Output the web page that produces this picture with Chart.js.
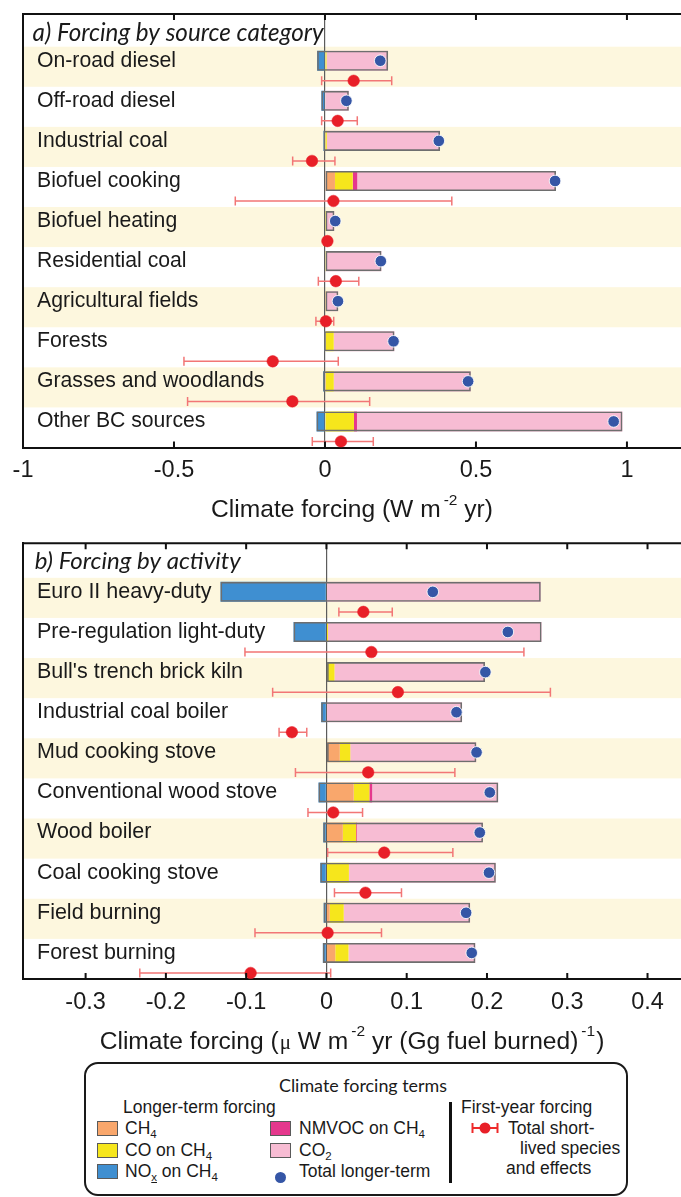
<!DOCTYPE html>
<html>
<head>
<meta charset="utf-8">
<script src="https://cdn.jsdelivr.net/npm/chart.js@4.4.1/dist/chart.umd.min.js"></script>
<style>
  html, body { margin: 0; padding: 0; background: #fff; }
  #page { position: relative; width: 681px; height: 1197px; overflow: hidden; background: #fff; }
  #page canvas { position: absolute; left: 0; }
  #cA { top: 0; }
  #cB { top: 530px; }
  .lg { position: absolute; font-family: 'Liberation Sans', Arial, sans-serif; font-size: 17.5px; color: #1a1a1a;
        line-height: 20px; height: 20px; white-space: nowrap; }
  .lg sub { font-size: 11.5px; vertical-align: -4px; line-height: 0; }
  .sw { position: absolute; width: 19px; height: 13px; border: 1px solid #5a5a5a; }
  #lgBox { position: absolute; left: 84px; top: 1062px; width: 544px; height: 134px; box-sizing: border-box;
           border: 2px solid #1a1a1a; border-radius: 14px; }
  #lgTitle { font-family: Lato, 'Open Sans', sans-serif; font-size: 17.9px; width: 220px; left: 253px; text-align: center; }
  #lgDiv { position: absolute; left: 449px; top: 1102px; width: 3px; height: 81px; background: #111; }
</style>
</head>
<body>
<div id="page">
  <canvas id="cA" width="681" height="530"></canvas>
  <canvas id="cB" width="681" height="530"></canvas>

  <div id="lgBox"></div>
  <div class="lg" id="lgTitle" style="top:1075px">Climate forcing terms</div>
  <div class="lg" style="left:123px; top:1097px">Longer-term forcing</div>
  <div id="lgItems"></div>
  <div id="lgDiv"></div>
  <div class="lg" style="left:461px; top:1097px">First-year forcing</div>
  <svg style="position:absolute; left:470px; top:1120px" width="30" height="16">
    <line x1="2" y1="8" x2="28" y2="8" stroke="#ee2a2a" stroke-width="2"/>
    <line x1="2.5" y1="3" x2="2.5" y2="13" stroke="#ee2a2a" stroke-width="2"/>
    <line x1="27.5" y1="3" x2="27.5" y2="13" stroke="#ee2a2a" stroke-width="2"/>
    <circle cx="15" cy="8" r="5.5" fill="#e81f28"/>
  </svg>
  <div class="lg" style="left:508px; top:1118px">Total short-</div>
  <div class="lg" style="left:520px; top:1138px">lived species</div>
  <div class="lg" style="left:506px; top:1158px">and effects</div>
</div>

<script>
// ---------------- Panel a: forcing by source category (W m-2 yr) ----------------
const sourceCategories = ['On-road diesel', 'Off-road diesel', 'Industrial coal', 'Biofuel cooking',
  'Biofuel heating', 'Residential coal', 'Agricultural fields', 'Forests',
  'Grasses and woodlands', 'Other BC sources'];
const sourceNOx    = [-0.026, -0.012, -0.005, 0, 0, 0, 0, -0.003, -0.006, -0.028];
const sourceCH4    = [0, 0, 0, 0.033, 0.002, 0, 0.003, 0.003, 0.003, 0];
const sourceCO     = [0.005, 0.002, 0.006, 0.059, 0.002, 0.003, 0.002, 0.026, 0.026, 0.096];
const sourceNMVOC  = [0, 0, 0, 0.015, 0, 0, 0, 0, 0, 0.010];
const sourceCO2    = [0.204, 0.077, 0.375, 0.658, 0.027, 0.184, 0.039, 0.201, 0.454, 0.879];
const sourceTotal  = [0.183, 0.071, 0.377, 0.762, 0.034, 0.185, 0.043, 0.227, 0.474, 0.956];
const sourceFirst   = [0.095, 0.042, -0.043, 0.028, 0.008, 0.036, 0.003, -0.173, -0.108, 0.053];
const sourceFirstLo = [-0.011, -0.011, -0.107, -0.297, -0.002, -0.022, -0.030, -0.467, -0.455, -0.042];
const sourceFirstHi = [0.221, 0.107, 0.033, 0.420, 0.018, 0.112, 0.029, 0.044, 0.148, 0.160];
const sourceTicks      = [-1, -0.5, 0, 0.5, 1];
const sourceTickLabels = ['-1', '-0.5', '0', '0.5', '1'];

// ---------------- Panel b: forcing by activity (uW m-2 yr per Gg fuel burned) ----------------
const activityCategories = ['Euro II heavy-duty', 'Pre-regulation light-duty', "Bull's trench brick kiln",
  'Industrial coal boiler', 'Mud cooking stove', 'Conventional wood stove', 'Wood boiler',
  'Coal cooking stove', 'Field burning', 'Forest burning'];
const activityNOx   = [-0.132, -0.041, 0, -0.0066, 0, -0.0099, -0.004, -0.0077, -0.0035, -0.0045];
const activityCH4   = [0, 0, 0, 0, 0.0166, 0.034, 0.0204, 0, 0.004, 0.011];
const activityCO    = [0, 0.002, 0.010, 0, 0.0131, 0.0195, 0.0166, 0.028, 0.0175, 0.0165];
const activityNMVOC = [0, 0, 0, 0, 0, 0.0035, 0.001, 0, 0, 0];
const activityCO2   = [0.267, 0.266, 0.1875, 0.169, 0.157, 0.157, 0.157, 0.183, 0.1575, 0.158];
const activityTotal = [0.1325, 0.226, 0.198, 0.162, 0.187, 0.2035, 0.191, 0.2025, 0.174, 0.181];
const activityFirst   = [0.046, 0.056, 0.089, -0.043, 0.052, 0.0085, 0.072, 0.0486, 0.0015, -0.0944];
const activityFirstLo = [0.0155, -0.1015, -0.067, -0.059, -0.0386, -0.023, 0.0015, 0.010, -0.089, -0.2325];
const activityFirstHi = [0.082, 0.246, 0.279, -0.0245, 0.160, 0.045, 0.1575, 0.0935, 0.0686, 0.0053];
const activityTicks      = [-0.3, -0.2, -0.1, 0, 0.1, 0.2, 0.3, 0.4];
const activityTickLabels = ['-0.3', '-0.2', '-0.1', '0', '0.1', '0.2', '0.3', '0.4'];

// ---------------- shared styling ----------------
const FONT = "'Liberation Sans', Arial, Helvetica, sans-serif";
const TERM_COLORS = { nox: '#3f8fd1', ch4: '#f9a76c', co: '#f6e61c', nmvoc: '#e5388d', co2: '#f7bcd3' };
const TERM_LEGEND = [
  { html: 'CH<sub>4</sub>', color: TERM_COLORS.ch4, col: 0, row: 0 },
  { html: 'CO on CH<sub>4</sub>', color: TERM_COLORS.co, col: 0, row: 1 },
  { html: 'NO<sub><u>x</u></sub> on CH<sub>4</sub>', color: TERM_COLORS.nox, col: 0, row: 2 },
  { html: 'NMVOC on CH<sub>4</sub>', color: TERM_COLORS.nmvoc, col: 1, row: 0 },
  { html: 'CO<sub>2</sub>', color: TERM_COLORS.co2, col: 1, row: 1 },
  { html: 'Total longer-term', dot: '#3556a6', col: 1, row: 2 }
];
const BAR_OFFSET = -0.15;   // bar sits in the upper part of each row band
const DOT_OFFSET = 0.35;    // first-year marker sits in the lower part

// Scales keep exactly the box they are given: no automatic label padding
function noPadding(s) {
  s.paddingLeft = 0; s.paddingRight = 0; s.paddingTop = 0; s.paddingBottom = 0;
}

// Row bands, top frame, inward tick marks, panel title and axis title
const panelFrame = {
  id: 'panelFrame',
  beforeDraw(chart, _args, o) {
    const { ctx, chartArea: a } = chart;
    const y = chart.scales.y;
    ctx.save();
    ctx.fillStyle = '#fdf7de';
    for (let i = 0; i < o.rows; i += 2) {
      const t = y.getPixelForValue(i - 0.5), b = y.getPixelForValue(i + 0.5);
      ctx.fillRect(a.left, t, a.right - a.left, b - t);
    }
    ctx.restore();
  },
  afterDraw(chart, _args, o) {
    const { ctx, chartArea: a } = chart;
    const x = chart.scales.x;
    ctx.save();
    ctx.strokeStyle = '#111';
    ctx.lineWidth = 2;
    ctx.beginPath();
    ctx.moveTo(a.left - 1, a.top);
    ctx.lineTo(a.right, a.top);
    ctx.stroke();
    ctx.beginPath();
    x.ticks.forEach(t => {
      const px = x.getPixelForValue(t.value);
      ctx.moveTo(px, a.top); ctx.lineTo(px, a.top + 6);
      ctx.moveTo(px, a.bottom); ctx.lineTo(px, a.bottom - 6);
    });
    ctx.stroke();

    // panel title, italic
    ctx.fillStyle = '#1a1a1a';
    ctx.textBaseline = 'middle';
    ctx.font = 'italic 20px Lato, "Open Sans", sans-serif';
    const w20 = ctx.measureText(o.title).width;
    const size = Math.max(15, Math.min(26, 20 * o.titleWidth / w20));
    ctx.font = `italic ${size.toFixed(2)}px Lato, "Open Sans", sans-serif`;
    ctx.fillText(o.title, a.left + o.titleDx, a.top + o.titleDy);

    // axis title with superscripts
    const parts = o.axisTitle;
    let total = 0;
    parts.forEach(p => { ctx.font = p.font; p.w = ctx.measureText(p.t).width; total += p.w + (p.gap || 0); });
    let cx = (a.left + a.right) / 2 - total / 2;
    const base = a.bottom + o.axisTitleDy + 8.8;
    ctx.textBaseline = 'alphabetic';
    parts.forEach(p => {
      cx += p.gap || 0;
      ctx.font = p.font;
      ctx.fillText(p.t, cx, base - (p.raise || 0));
      cx += p.w;
    });
    ctx.restore();
  }
};

function buildPanel(canvas, d) {
  const n = d.cats.length;
  const barY = i => i + BAR_OFFSET;
  const dotY = i => i + DOT_OFFSET;
  const segment = (label, vals, color) => ({
    type: 'bar', label, stack: 'longer', order: 5,
    data: vals.map((v, i) => ({ x: v, y: barY(i) })),
    backgroundColor: color, borderWidth: 0,
    grouped: false, categoryPercentage: 1, barPercentage: 0.5
  });
  const whiskers = [];
  d.lo.forEach((lo, i) => {
    whiskers.push({ x: lo, y: dotY(i) }, { x: d.hi[i], y: dotY(i) }, { x: null, y: null });
  });
  const datasets = [
    segment('NOx on CH4', d.nox, TERM_COLORS.nox),
    segment('CH4', d.ch4, TERM_COLORS.ch4),
    segment('CO on CH4', d.co, TERM_COLORS.co),
    segment('NMVOC on CH4', d.nmvoc, TERM_COLORS.nmvoc),
    segment('CO2', d.co2, TERM_COLORS.co2),
    {
      type: 'bar', label: 'outline', stack: 'outline', order: 4,
      data: d.cats.map((c, i) => ({
        x: [Math.min(0, d.nox[i]), d.ch4[i] + d.co[i] + d.nmvoc[i] + d.co2[i]], y: barY(i)
      })),
      backgroundColor: 'rgba(0,0,0,0)', borderColor: '#6e6e6e', borderWidth: 1.6, borderSkipped: false,
      grouped: false, categoryPercentage: 1, barPercentage: 0.5
    },
    {
      type: 'line', label: 'first-year range', stack: 'range', order: 2,
      data: whiskers, showLine: true, spanGaps: false, fill: false,
      borderColor: '#f27676', borderWidth: 1.5,
      pointStyle: 'line', pointRotation: 90, pointRadius: 4.5, pointHoverRadius: 4.5,
      pointBorderColor: '#f27676', pointBorderWidth: 1.5
    },
    {
      type: 'line', label: 'Total short-lived species and effects', stack: 'first', order: 1,
      data: d.first.map((v, i) => ({ x: v, y: dotY(i) })), showLine: false,
      pointRadius: 5.8, pointHoverRadius: 5.8, pointBackgroundColor: '#e81f28',
      pointBorderColor: '#e81f28', pointBorderWidth: 0.5
    },
    {
      type: 'line', label: 'Total longer-term', stack: 'total', order: 0,
      data: d.total.map((v, i) => ({ x: v, y: barY(i) })), showLine: false,
      pointRadius: 5.8, pointHoverRadius: 5.8, pointBackgroundColor: '#3556a6',
      pointBorderColor: 'rgba(255,255,255,0.85)', pointBorderWidth: 1
    }
  ];

  return new Chart(canvas, {
    type: 'bar',
    data: { datasets },
    plugins: [panelFrame],
    options: {
      indexAxis: 'y',
      responsive: false,
      animation: false,
      devicePixelRatio: 1,
      events: [],
      layout: { autoPadding: false, padding: { left: 23, top: d.padTop, right: 0, bottom: 0 } },
      plugins: {
        legend: { display: false },
        tooltip: { enabled: false },
        panelFrame: {
          rows: n, title: d.title, titleWidth: d.titleWidth, titleDx: d.titleDx, titleDy: d.titleDy,
          axisTitle: d.axisTitle, axisTitleDy: 61
        }
      },
      scales: {
        x: {
          type: 'linear', stacked: true, offset: false, min: d.xMin, max: d.xMax, bounds: 'data',
          afterBuildTicks: s => { s.ticks = d.ticks.map(v => ({ value: v })); },
          afterFit: s => { s.height = d.axisHeight; noPadding(s); },
          ticks: {
            autoSkip: false, maxRotation: 0, minRotation: 0, padding: 9,
            font: { family: FONT, size: 23.5 }, color: '#1a1a1a',
            callback: (v, i) => d.tickLabels[i]
          },
          grid: {
            offset: false, drawTicks: false, lineWidth: 1.2,
            color: c => (c.tick && c.tick.value === 0) ? '#5c5c5c' : 'rgba(0,0,0,0)'
          },
          border: { display: true, color: '#111', width: 2 }
        },
        y: {
          type: 'linear', reverse: true, offset: false, min: d.yMin, max: n - 0.5, bounds: 'data',
          afterBuildTicks: s => { s.ticks = d.cats.map((c, i) => ({ value: barY(i) })); },
          afterFit: s => { s.width = 0; noPadding(s); },
          ticks: {
            mirror: true, padding: 14, autoSkip: false,
            font: { family: FONT, size: d.catFont }, color: '#1a1a1a',
            callback: (v, i) => d.cats[i]
          },
          grid: { display: false, offset: false, drawTicks: false },
          border: { display: true, color: '#111', width: 2 }
        }
      }
    }
  });
}

const MAIN = `24.6px ${FONT}`;
const SUP = `15.5px ${FONT}`;

buildPanel(document.getElementById('cA'), {
  cats: sourceCategories, nox: sourceNOx, ch4: sourceCH4, co: sourceCO, nmvoc: sourceNMVOC, co2: sourceCO2,
  total: sourceTotal, first: sourceFirst, lo: sourceFirstLo, hi: sourceFirstHi,
  ticks: sourceTicks, tickLabels: sourceTickLabels,
  xMin: -1, xMax: 1.179, yMin: -1.316, padTop: 14, axisHeight: 82.5, catFont: 21.2,
  title: 'a) Forcing by source category', titleWidth: 291, titleDx: 9.6, titleDy: 19,
  axisTitle: [
    { t: 'Climate forcing (W m', font: MAIN },
    { t: '-2', font: SUP, raise: 12.5, gap: 3 },
    { t: ' yr)', font: MAIN }
  ]
});

buildPanel(document.getElementById('cB'), {
  cats: activityCategories, nox: activityNOx, ch4: activityCH4, co: activityCO, nmvoc: activityNMVOC, co2: activityCO2,
  total: activityTotal, first: activityFirst, lo: activityFirstLo, hi: activityFirstHi,
  ticks: activityTicks, tickLabels: activityTickLabels,
  xMin: -0.378, xMax: 0.4417, yMin: -1.36, padTop: 13.3, axisHeight: 81, catFont: 21.5,
  title: 'b) Forcing by activity', titleWidth: 206, titleDx: 11.8, titleDy: 18.4,
  axisTitle: [
    { t: 'Climate forcing (', font: MAIN },
    { t: '\u03bc', font: `21px 'Liberation Serif', 'DejaVu Serif', serif`, gap: 1 },
    { t: ' W m', font: MAIN },
    { t: '-2', font: SUP, raise: 12.5, gap: 3 },
    { t: ' yr (Gg fuel burned)', font: MAIN },
    { t: '-1', font: SUP, raise: 12.5, gap: 3 },
    { t: ')', font: MAIN, gap: 1 }
  ]
});

// Legend entries for the longer-term forcing terms
const lgItems = document.getElementById('lgItems');
const LG_ROWS = [1128, 1150, 1171];
const LG_SWATCH_X = [97, 270];
const LG_TEXT_X = [125, 299];
TERM_LEGEND.forEach(item => {
  const yc = LG_ROWS[item.row];
  if (item.dot) {
    const dot = document.createElement('div');
    dot.style.cssText = `position:absolute;left:${LG_SWATCH_X[item.col] + 5}px;top:${yc + 1}px;width:11px;height:11px;border-radius:50%;background:${item.dot}`;
    lgItems.appendChild(dot);
  } else {
    const sw = document.createElement('div');
    sw.className = 'sw';
    sw.style.cssText = `left:${LG_SWATCH_X[item.col]}px;top:${yc - 7.5}px;background:${item.color}`;
    lgItems.appendChild(sw);
  }
  const tx = document.createElement('div');
  tx.className = 'lg';
  tx.style.left = LG_TEXT_X[item.col] + 'px';
  tx.style.top = (yc - 10) + 'px';
  tx.innerHTML = item.html;
  lgItems.appendChild(tx);
});
</script>
</body>
</html>
